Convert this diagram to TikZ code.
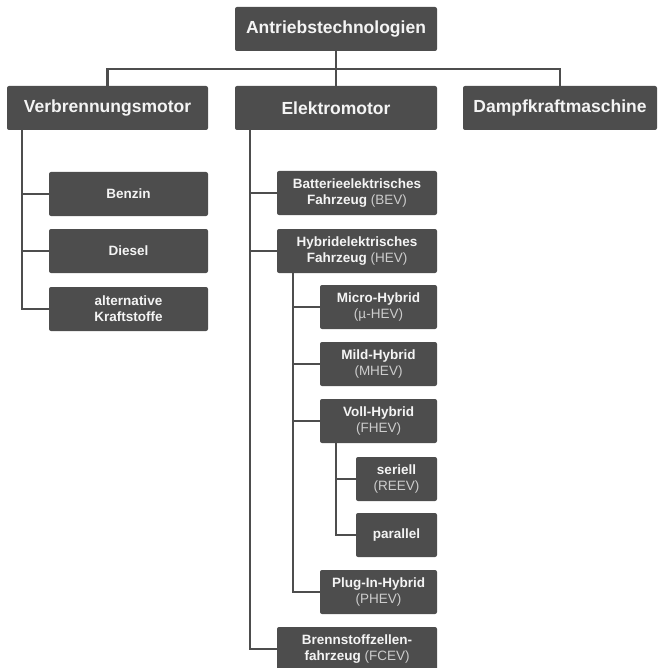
\documentclass[tikz,border=0pt]{standalone}
\usepackage{fontspec}
\setmainfont{Liberation Sans}
\usetikzlibrary{positioning}
\definecolor{boxgray}{HTML}{4D4D4D}
\definecolor{txtwhite}{HTML}{F4F4F4}
\definecolor{abbrgray}{HTML}{CDCDCD}
\newcommand{\abbr}[1]{{\mdseries\color{abbrgray}#1}}

\begin{document}
\begin{tikzpicture}[x=1pt, y=-1pt,
    main/.style={fill=boxgray, rounded corners=2pt, text=txtwhite, font=\fontsize{17.5}{20}\selectfont\bfseries, minimum height=44pt, inner sep=0pt},
    leaf/.style={fill=boxgray, rounded corners=2pt, text=txtwhite, font=\fontsize{13.5}{16}\selectfont\bfseries, align=center, minimum height=44pt, inner sep=0pt},
    link/.style={draw=boxgray, line width=2.4pt}
  ]
    \useasboundingbox (0,0) rectangle (657,668);

    \node[main, minimum width=202pt] (root) at (336,29) {Antriebstechnologien};
    \node[main, minimum width=201pt] (verb) at (107.5,108) {Verbrennungsmotor};
    \node[main, minimum width=202pt] (elek) at (336,108) {Elektromotor};
    \node[main, minimum width=194pt] (dampf) at (560,108) {Dampfkraftmaschine};

    \node[leaf, minimum width=159pt] (benzin) at (128.5,194) {Benzin};
    \node[leaf, minimum width=159pt] (diesel) at (128.5,251) {Diesel};
    \node[leaf, minimum width=159pt] (alt) at (128.5,309) {alternative\\Kraftstoffe};

    \node[leaf, minimum width=160pt] (bev) at (357,193) {Batterieelektrisches\\Fahrzeug \abbr{(BEV)}};
    \node[leaf, minimum width=160pt] (hev) at (357,251) {Hybridelektrisches\\Fahrzeug \abbr{(HEV)}};
    \node[leaf, minimum width=117pt] (micro) at (378.5,307) {Micro-Hybrid\\\abbr{(µ-HEV)}};
    \node[leaf, minimum width=117pt] (mild) at (378.5,364) {Mild-Hybrid\\\abbr{(MHEV)}};
    \node[leaf, minimum width=117pt] (voll) at (378.5,421) {Voll-Hybrid\\\abbr{(FHEV)}};
    \node[leaf, minimum width=81pt] (seriell) at (396.5,479) {seriell\\\abbr{(REEV)}};
    \node[leaf, minimum width=81pt] (parallel) at (396.5,535) {parallel};
    \node[leaf, minimum width=117pt] (plug) at (378.5,592) {Plug-In-Hybrid\\\abbr{(PHEV)}};
    \node[leaf, minimum width=160pt] (fcev) at (357,649) {Brennstoffzellen-\\fahrzeug \abbr{(FCEV)}};

    % first level
    \draw[link] (root.south) -- ++(0,18) coordinate (bus);
    \draw[link] (verb.north) |- (bus) -| (dampf.north);
    \draw[link] (bus) -- (elek.north);

    % sub trees
    \foreach \n in {benzin,diesel,alt}
      \draw[link] ([xshift=15pt]verb.south west) |- (\n.west);
    \foreach \n in {bev,hev,fcev}
      \draw[link] ([xshift=15pt]elek.south west) |- (\n.west);
    \foreach \n in {micro,mild,voll,plug}
      \draw[link] ([xshift=16pt]hev.south west) |- (\n.west);
    \foreach \n in {seriell,parallel}
      \draw[link] ([xshift=16pt]voll.south west) |- (\n.west);
  \end{tikzpicture}
\end{document}
